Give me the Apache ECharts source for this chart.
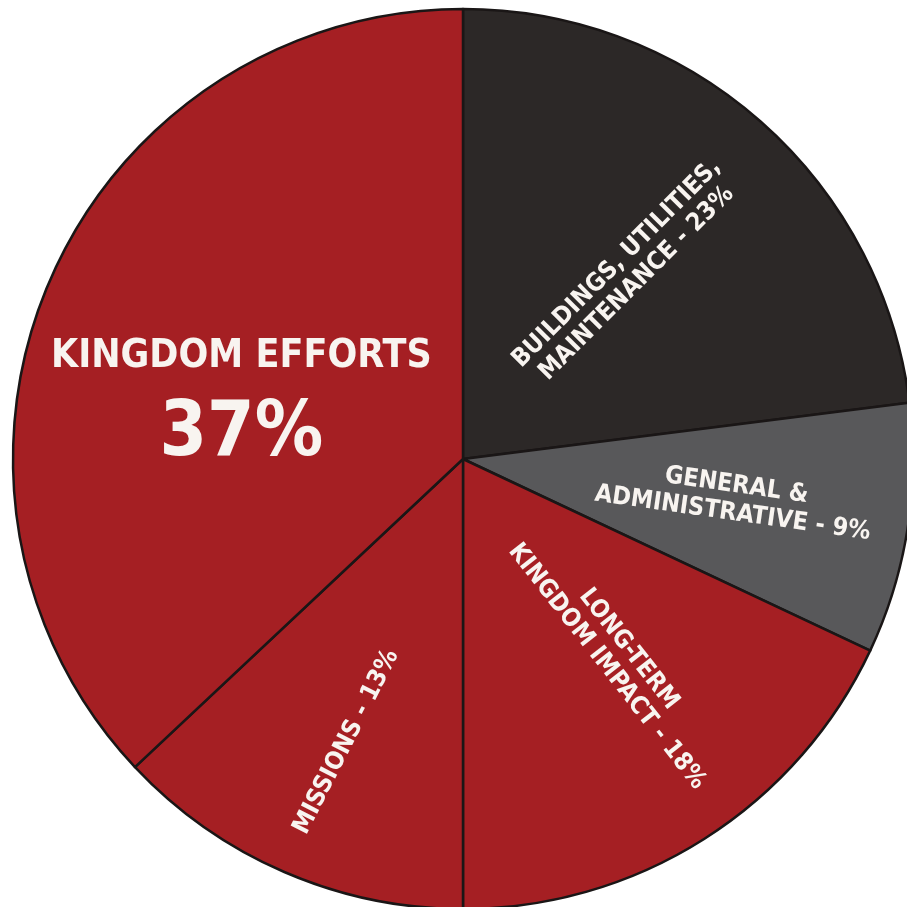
<!DOCTYPE html>
<html>
<head>
<meta charset="utf-8">
<script src="https://cdn.jsdelivr.net/npm/echarts@6/dist/echarts.min.js"></script>
<style>
  html, body { margin: 0; padding: 0; background: #ffffff; }
  #chart { width: 907px; height: 907px; }
</style>
</head>
<body>
<div id="chart"></div>
<script>
// slices, clockwise from 12 o'clock
var sliceNames = ['BUILDINGS, UTILITIES,\nMAINTENANCE - 23%', 'GENERAL &\nADMINISTRATIVE - 9%', 'LONG-TERM\nKINGDOM IMPACT - 18%', 'MISSIONS - 13%', 'KINGDOM EFFORTS'];
var sliceValues = [23, 9, 18, 13, 37];
var sliceColors = ['#2c2827', '#58585a', '#a51f23', '#a51f23', '#a51f23'];

// where each label sits: fraction of the radius, angle shift from the slice middle, text rotation
var labelRadius = [0.55, 0.61, 0.56, 0.68, 0.51];
var labelShift = [0, 0.5, 5.5, 1, 8.4];
var labelRotate = [45, -8, -52, 63, 0];

var cx = 463, cy = 459, R = 450;
var fontName = '"Liberation Sans Narrow", "DejaVu Sans Condensed", "Arial Narrow", sans-serif';

var total = sliceValues.reduce(function (a, b) { return a + b; }, 0);
var midAngles = [];
var acc = 0;
sliceValues.forEach(function (v) {
  midAngles.push(90 - (acc + v / 2) / total * 360);
  acc += v;
});

var pieData = sliceValues.map(function (v, i) {
  var item = {
    name: sliceNames[i],
    value: v,
    itemStyle: { color: sliceColors[i] },
    label: { rotate: labelRotate[i] }
  };
  if (i === 4) {
    item.label.formatter = '{a|' + sliceNames[i] + '}\n{b|' + v + '%}';
  }
  return item;
});

var chart = echarts.init(document.getElementById('chart'));

var option = {
  animation: false,
  backgroundColor: '#ffffff',
  series: [
    {
      type: 'pie',
      silent: true,
      center: [cx, cy],
      radius: [0, R],
      startAngle: 90,
      clockwise: true,
      avoidLabelOverlap: false,
      itemStyle: {
        borderColor: '#1a1616',
        borderWidth: 2.5
      },
      label: {
        show: true,
        position: 'inside',
        formatter: '{b}',
        color: '#f8f4f0',
        fontFamily: fontName,
        fontWeight: 'bold',
        fontSize: 25,
        lineHeight: 28,
        align: 'center',
        verticalAlign: 'middle',
        rich: {
          a: { fontFamily: fontName, fontWeight: 'bold', fontSize: 39, lineHeight: 72, color: '#f8f4f0' },
          b: { fontFamily: fontName, fontWeight: 'bold', fontSize: 76, lineHeight: 86, color: '#f8f4f0' }
        }
      },
      labelLine: { show: false },
      labelLayout: function (params) {
        var i = params.dataIndex;
        var a = (midAngles[i] + labelShift[i]) * Math.PI / 180;
        return {
          x: cx + Math.cos(a) * R * labelRadius[i],
          y: cy - Math.sin(a) * R * labelRadius[i]
        };
      },
      data: pieData
    }
  ]
};

chart.setOption(option);
</script>
</body>
</html>
